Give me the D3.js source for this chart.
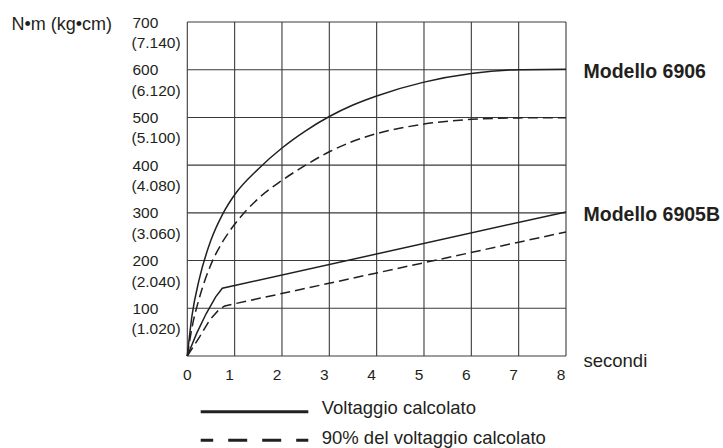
<!DOCTYPE html>
<html>
<head>
<meta charset="utf-8">
<script src="https://cdn.jsdelivr.net/npm/d3@7"></script>
<style>
body { margin: 0; background: #fff; }
svg { display: block; }
text { font-family: "Liberation Sans", Arial, sans-serif; fill: #231f20; }
</style>
</head>
<body>
<div></div>
<script>
var w = 723;
var h = 448;

// axes
var secTicks = [0, 1, 2, 3, 4, 5, 6, 7, 8];
var nmTicks = [0, 100, 200, 300, 400, 500, 600, 700];
var nmLabels = ["", "100", "200", "300", "400", "500", "600", "700"];
var kgLabels = ["", "(1.020)", "(2.040)", "(3.060)", "(4.080)", "(5.100)", "(6.120)", "(7.140)"];

// Modello 6906
var t6906 = [0, 0.1, 0.25, 0.5, 0.75, 1.0, 1.5, 2.0, 2.5, 3.0, 3.5, 4.0, 5.0, 6.0, 7.0, 8.0];
var full6906 = [0, 85, 160, 243, 298, 338, 392, 436, 472, 502, 526, 545, 574, 592, 600, 601];
var low6906 = [0, 60, 120, 192, 240, 276, 330, 368, 400, 428, 450, 466, 486, 496, 499, 499.5];

// Modello 6905B
var t6905 = [0, 0.2, 0.4, 0.6, 0.74, 8.0];
var full6905 = [0, 48, 89, 124, 142, 302];
var t6905low = [0, 0.26, 0.47, 0.65, 0.79, 8.0];
var low6905 = [0, 40, 75, 95, 105, 260];

var models = ["Modello 6906", "Modello 6905B"];
var modelAt = [600, 300];
var legendLabels = ["Voltaggio calcolato", "90% del voltaggio calcolato"];

var ink = "#231f20";

var svg = d3.select("div").append("svg")
	.attr("width", w)
	.attr("height", h);

var x = d3.scaleLinear().domain([0, 8]).range([187.3, 566]);
var y = d3.scaleLinear().domain([0, 700]).range([356, 22]);

// grid
var grid = svg.append("g").attr("class", "grid");

grid.selectAll("line.v")
	.data(secTicks)
	.enter()
	.append("line")
	.attr("x1", function(d) { return x(d); })
	.attr("x2", function(d) { return x(d); })
	.attr("y1", y(0))
	.attr("y2", y(700))
	.attr("stroke", "#3a3a3a")
	.attr("stroke-width", 1.1);

grid.selectAll("line.h")
	.data(nmTicks)
	.enter()
	.append("line")
	.attr("x1", x(0))
	.attr("x2", x(8))
	.attr("y1", function(d) { return y(d); })
	.attr("y2", function(d) { return y(d); })
	.attr("stroke", "#3a3a3a")
	.attr("stroke-width", 1.1);

// tick labels
svg.selectAll("text.sec")
	.data(secTicks)
	.enter()
	.append("text")
	.attr("class", "sec")
	.attr("x", function(d) { return x(d) - (d ? 5 : 0); })
	.attr("y", 379.5)
	.attr("text-anchor", "middle")
	.attr("font-size", 15.5)
	.text(function(d) { return d; });

var yl = svg.selectAll("g.ylab")
	.data(nmTicks.slice(1))
	.enter()
	.append("g")
	.attr("class", "ylab");

yl.append("text")
	.attr("x", 132.5)
	.attr("y", function(d) { return y(d) + 5.5; })
	.attr("font-size", 15.5)
	.text(function(d, i) { return nmLabels[i + 1]; });

yl.append("text")
	.attr("x", 131.5)
	.attr("y", function(d) { return y(d) + 26; })
	.attr("font-size", 15.5)
	.text(function(d, i) { return kgLabels[i + 1]; });

svg.append("text")
	.attr("x", 11.5)
	.attr("y", 30)
	.attr("font-size", 18)
	.text("N\u2022m (kg\u2022cm)");

svg.append("text")
	.attr("x", 583.5)
	.attr("y", 366.5)
	.attr("font-size", 18.5)
	.text("secondi");

svg.selectAll("text.model")
	.data(models)
	.enter()
	.append("text")
	.attr("class", "model")
	.attr("x", 583.5)
	.attr("y", function(d, i) { return y(modelAt[i]) + 8; })
	.attr("font-size", 19.5)
	.attr("font-weight", "bold")
	.text(function(d) { return d; });

// curves
var smooth = d3.line()
	.x(function(d) { return x(d[0]); })
	.y(function(d) { return y(d[1]); })
	.curve(d3.curveMonotoneX);

var straight = d3.line()
	.x(function(d) { return x(d[0]); })
	.y(function(d) { return y(d[1]); });

var series = [
	{ t: t6906, v: full6906, dash: null, gen: smooth },
	{ t: t6906, v: low6906, dash: "10,5", gen: smooth },
	{ t: t6905, v: full6905, dash: null, gen: straight },
	{ t: t6905low, v: low6905, dash: "10,5", gen: straight }
];

svg.selectAll("path.curve")
	.data(series)
	.enter()
	.append("path")
	.attr("class", "curve")
	.attr("d", function(s) { return s.gen(d3.zip(s.t, s.v)); })
	.attr("fill", "none")
	.attr("stroke", ink)
	.attr("stroke-width", 1.5)
	.attr("stroke-dasharray", function(s) { return s.dash; });

// legend
var legend = svg.append("g").attr("class", "legend");

legend.selectAll("line")
	.data(legendLabels)
	.enter()
	.append("line")
	.attr("x1", 200.7)
	.attr("x2", 308.3)
	.attr("y1", function(d, i) { return 411.7 + i * 28.5; })
	.attr("y2", function(d, i) { return 411.7 + i * 28.5; })
	.attr("stroke", ink)
	.attr("stroke-width", 3)
	.attr("stroke-dasharray", function(d, i) { return i ? "19,15" : null; })
	.attr("stroke-dashoffset", function(d, i) { return i ? 6.5 : 0; });

legend.selectAll("text")
	.data(legendLabels)
	.enter()
	.append("text")
	.attr("x", 321.7)
	.attr("y", function(d, i) { return 414 + i * 30; })
	.attr("font-size", 18.5)
	.text(function(d) { return d; });
</script>
</body>
</html>
